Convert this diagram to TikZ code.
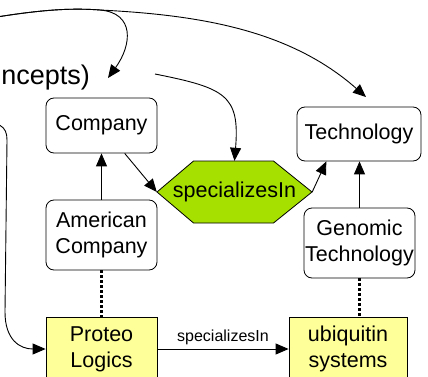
\documentclass[tikz,border=0pt]{standalone}
\usepackage{fontspec}
\setmainfont{Liberation Sans}
\usepackage{xcolor}
\usetikzlibrary{calc}
\usetikzlibrary{arrows.meta}

\definecolor{boxyellow}{RGB}{255,255,153}
\definecolor{relgreen}{RGB}{166,224,0}

\begin{document}
\begin{tikzpicture}[x=1pt, y=-1pt]
        % ================= styles =================
        \tikzset{
            % class box: white fill, rounded corners
            cnode/.style={rectangle, rounded corners=8pt, draw=black, line width=0.8pt, fill=white, minimum width=111pt, inner sep=0pt, align=center, font=\fontsize{21.5}{26}\selectfont},
            % instance box: yellow fill
            inode/.style={rectangle, draw=black, line width=0.8pt, fill=boxyellow, minimum height=64pt, inner sep=0pt, align=center, font=\fontsize{21.5}{26}\selectfont},
            % relation: text only, hexagon drawn below it
            rnode/.style={rectangle, minimum width=155pt, minimum height=62pt, inner sep=0pt, font=\fontsize{21.5}{26}\selectfont},
            hexa/.style={draw=black, line width=0.8pt, fill=relgreen},
            % plain arrow
            link/.style={line width=0.9pt, black, -{Triangle[length=13pt, width=11pt]}},
            % instance-of: thick dotted
            inst/.style={line width=2.5pt, black, dash pattern=on 2.5pt off 2.5pt}
        }

        \useasboundingbox (0,0) rectangle (428,377);
        \clip (0,0) rectangle (428,377);

        % ================= free ends =================
        \coordinate (src) at (-60,27);
        \coordinate (src2) at (-30,121);
        \coordinate (start) at (155,74);
        \coordinate (techtip) at (366,97);
        \coordinate (hexc) at (234.5,192);

        % ================= nodes =================
        \node[anchor=east, inner ysep=0pt, inner xsep=18pt, font=\fontsize{27}{32}\selectfont] (concepts) at (108,78) {ncepts)};

        \node[cnode, minimum height=55pt] (company) at (101.5,125.5) {Company};
        \node[cnode, minimum width=124pt, minimum height=54pt] (tech) at (359,134) {Technology};

        % hexagon for the relation
        \draw[hexa] ($(hexc)+(-77.5,0)$) -- ($(hexc)+(-41,-31)$) -- ($(hexc)+(39,-31)$)
            -- ($(hexc)+(77.5,0)$) -- ($(hexc)+(39,31)$) -- ($(hexc)+(-41,31)$) -- cycle;
        \node[rnode] (spec) at (hexc) {specializesIn};

        \node[cnode, minimum height=70pt] (amco) at (101.5,235) {American\\Company};
        \node[cnode, minimum height=70pt] (genomic) at (359.5,243) {Genomic\\Technology};
        \node[inode, minimum width=111pt] (proteo) at (101.5,349) {Proteo\\Logics};
        \node[inode, minimum width=118pt] (ubiq) at (348,349) {ubiquitin\\systems};

        % ================= connectors =================
        \draw[link] (src) .. controls (20,12) and (60,7) .. (100,10) .. controls (135,13) and (132,45) .. (concepts.east);
        \draw[link] (src) .. controls (20,12) and (60,7) .. (100,10) .. controls (200,15) and (290,30) .. (techtip);
        \draw[link] (start) .. controls (225,88) and (240,95) .. (spec.north);
        \draw[link] (src2) .. controls (0,121) and (7,126) .. (7,140) -- (5,312) .. controls (5,340) and (20,349) .. (proteo.west);

        \draw[link] (amco) -- (company);
        \draw[link] (company) -- (spec.west);
        \draw[link] (spec.east) -- (tech.-140);
        \draw[link] (genomic.north) -- (genomic.north |- tech.south);

        \draw[inst] (amco) -- (proteo);
        \draw[inst] (genomic.south) -- (genomic.south |- ubiq.north);

        \draw[link] (proteo) -- node[above, font=\fontsize{16}{19}\selectfont] {specializesIn} (ubiq);

    \end{tikzpicture}
\end{document}
